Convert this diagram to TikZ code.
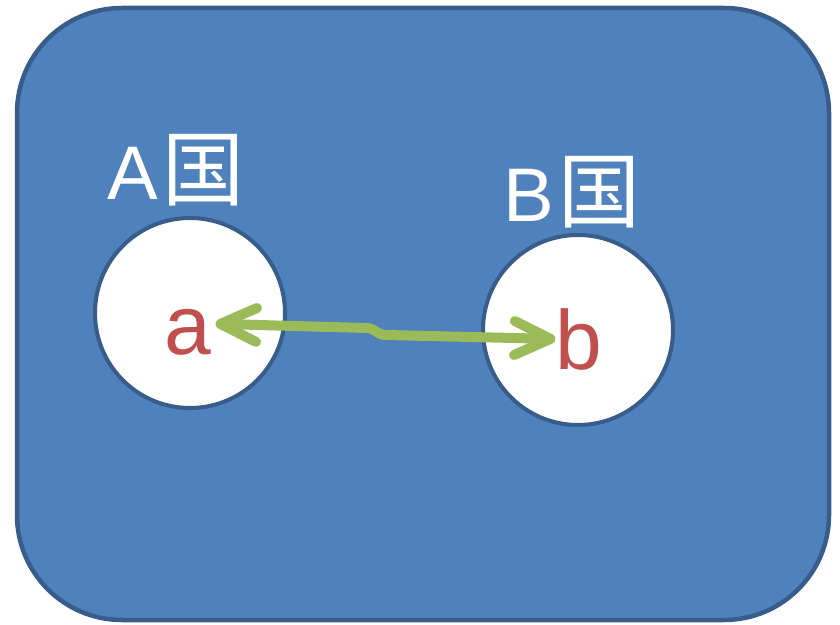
\documentclass[tikz,border=0pt]{standalone}
\usepackage{fontspec}
\setmainfont{Liberation Sans}
\newfontfamily\cjk{Noto Sans CJK JP}
\usetikzlibrary{arrows.meta}
\definecolor{areablue}{HTML}{4F81BD}
\definecolor{edgeblue}{HTML}{385D8A}
\definecolor{labelred}{HTML}{C0504D}
\definecolor{linkgreen}{HTML}{9BBB59}

\begin{document}
\begin{tikzpicture}[x=1pt,y=1pt,
		country/.style={circle, draw=edgeblue, fill=white, line width=4pt, minimum size=190pt, inner sep=0pt},
		countrylabel/.style={text=white, font=\fontsize{76}{80}\selectfont, inner sep=0pt, anchor=base},
		letter/.style={text=labelred, font=\fontsize{84}{88}\selectfont, inner sep=0pt, anchor=base},
		link/.style={draw=linkgreen, line width=10pt, line cap=round, line join=round,
			{Straight Barb[round,length=36pt,width=34pt]}-{Straight Barb[round,length=36pt,width=34pt]}}]
		\useasboundingbox (0,0) rectangle (840,624);
		
		\draw[fill=areablue, draw=edgeblue, line width=4.5pt, rounded corners=105pt] (17,4) rectangle (829,616);
		
		\node[country] (A) at (190,311) {};
		\node[country] (B) at (578,294) {};
		
		\node[countrylabel] (labelA) at (176,424) {A\kern5pt{\cjk\fontsize{82}{86}\selectfont 国}};
		\node[countrylabel] (labelB) at (572,402) {B\kern4pt{\cjk\fontsize{82}{86}\selectfont 国}};
		
		\node[letter] (a) at (188,269) {a};
		\node[letter] (b) at (579,254) {b};
		
		\coordinate (tipA) at ([shift={(4,9)}]a.east);
		\coordinate (tipB) at ([shift={(0,1)}]b.west);
		\coordinate (bendL) at (366,296);
		\coordinate (bendR) at (386,289);
		
		\draw[link] (tipA) -- (bendL) .. controls +(10,0) and +(-10,0) .. (bendR) -- (tipB);
	\end{tikzpicture}
\end{document}
